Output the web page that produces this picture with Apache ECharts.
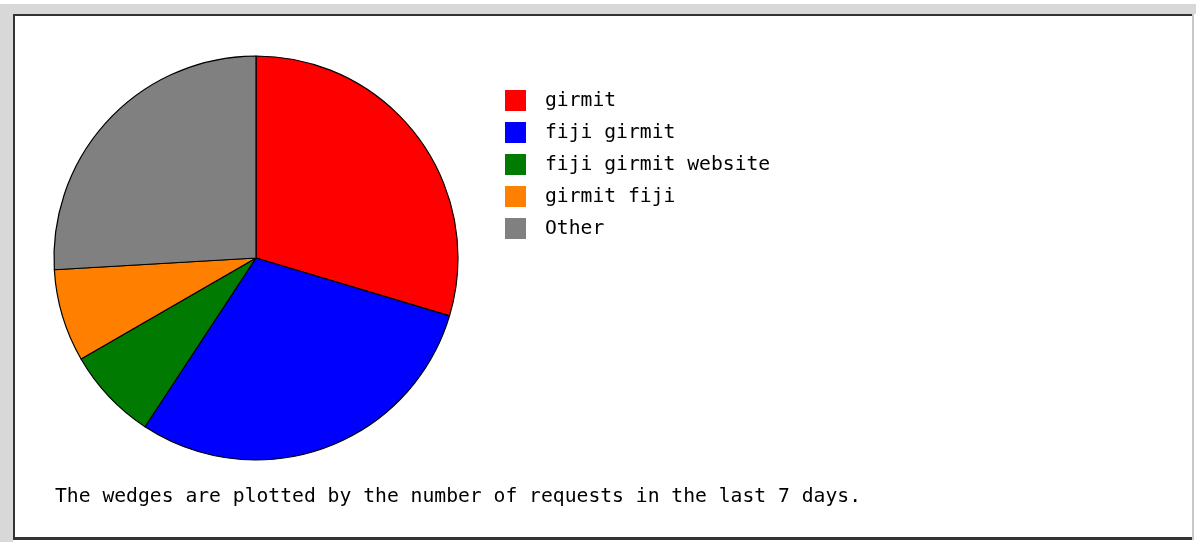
<!DOCTYPE html>
<html>
<head>
<meta charset="utf-8">
<script src="https://cdn.jsdelivr.net/npm/echarts@6/dist/echarts.min.js"></script>
<style>
html,body{margin:0;padding:0;background:#fff;}
#chart{width:1196px;height:542px;}
</style>
</head>
<body>
<div id="chart"></div>
<script>
const categories = ['girmit', 'fiji girmit', 'fiji girmit website', 'girmit fiji', 'Other'];
const requests = [8, 8, 2, 2, 7];
const colors = ['#ff0000', '#0000ff', '#007a00', '#ff8000', '#808080'];
const caption = 'The wedges are plotted by the number of requests in the last 7 days.';

const chart = echarts.init(document.getElementById('chart'), null, {renderer: 'canvas'});
const mono = '"DejaVu Sans Mono", "Liberation Mono", monospace';

chart.setOption({
  animation: false,
  backgroundColor: '#ffffff',
  color: colors,
  legend: {
    orient: 'vertical',
    left: 505,
    top: 90,
    padding: 0,
    icon: 'rect',
    itemWidth: 21,
    itemHeight: 21,
    itemGap: 11,
    selectedMode: false,
    itemStyle: {borderWidth: 0},
    textStyle: {fontFamily: mono, fontSize: 19.7, color: '#000', padding: [0, 0, 0, 14]},
    data: categories
  },
  series: [{
    type: 'pie',
    center: [256, 258],
    radius: [0, 202],
    startAngle: 90,
    clockwise: true,
    label: {show: false},
    labelLine: {show: false},
    emphasis: {disabled: true},
    itemStyle: {borderColor: '#000', borderWidth: 1.2},
    data: categories.map((c, i) => ({name: c, value: requests[i]}))
  }],
  graphic: [
    {type: 'rect', shape: {x: 0, y: 4, width: 1196, height: 10}, style: {fill: '#d8d8d8'}, silent: true},
    {type: 'rect', shape: {x: 0, y: 4, width: 13, height: 538}, style: {fill: '#d8d8d8'}, silent: true},
    {type: 'rect', shape: {x: 13, y: 14, width: 1179, height: 2}, style: {fill: '#333'}, silent: true},
    {type: 'rect', shape: {x: 13, y: 14, width: 2, height: 526}, style: {fill: '#333'}, silent: true},
    {type: 'rect', shape: {x: 13, y: 537, width: 1179, height: 3}, style: {fill: '#333'}, silent: true},
    {type: 'rect', shape: {x: 1192, y: 14, width: 2, height: 526}, style: {fill: '#c8c8c8'}, silent: true},
    {type: 'text', left: 55, top: 487, style: {text: caption, font: '19.7px ' + mono, fill: '#000'}, silent: true}
  ]
});
</script>
</body>
</html>
